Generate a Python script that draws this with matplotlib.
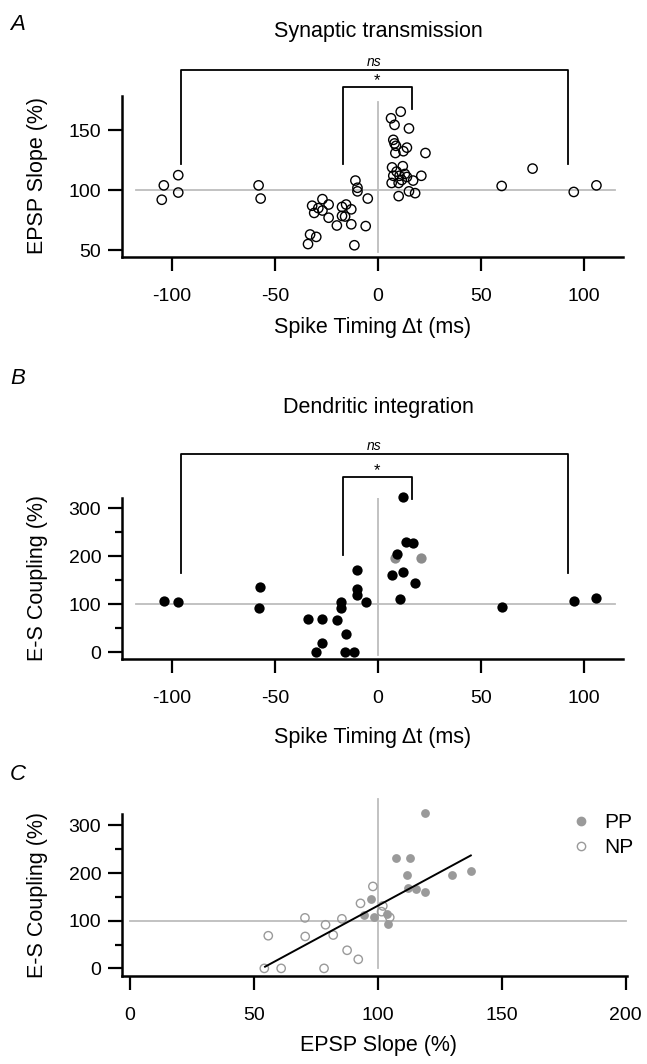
import matplotlib
matplotlib.use("Agg")
from matplotlib import pyplot as plt
from matplotlib.lines import Line2D
from matplotlib.ticker import MultipleLocator

plt.rcParams['font.family'] = ['Liberation Sans', 'DejaVu Sans']
plt.rcParams['axes.unicode_minus'] = False

# Panel A: synaptic transmission (spike timing ms, EPSP slope %)
a_dt = [-104, -97, -105, -97, -58, -57, 60, 75, 95, 106,
        -11, -10, -10, -5, -27, -32, -24, -29, -31, -27, -17.5, -15.5, -13, -24,
        -17.5, -16, -20, -13, -6, -33, -30, -34, -11.5,
        11, 6.3, 8, 15, 7.4, 8, 8.7, 14, 12.3, 8.4, 23, 6.8, 12, 9, 7.4, 10.4,
        13, 21, 14, 11.5, 17, 6.6, 10, 10, 15, 18]
a_slope = [104, 112.5, 92, 98, 104, 93, 103.5, 118, 98.5, 104,
           108, 102, 99, 93, 92.5, 87, 88, 85, 81, 83, 86, 88, 84, 77,
           78.5, 78, 70.5, 71.5, 70, 63, 61, 55, 54,
           165.5, 160, 154.5, 151.5, 142, 139, 137, 135.5, 132.5, 131, 131, 119, 120, 115.5, 112, 112,
           113.5, 112, 111, 108.5, 108, 106, 106, 95, 99, 97.5]

# Panel B: dendritic integration (spike timing ms, E-S coupling %)
b_dt = [-104, -97, -57.5, -58, -34, -27, -20, -27, -30, -18, -18, -15.5, -16, -11.5,
        -10, -10, -10, -6, 7, 12, 10.5, 18, 60, 95, 106, 12, 13.5, 17, 9]
b_es = [107.5, 105.5, 137, 93, 69, 70, 67, 19, 0, 105, 93, 38, 0, 0,
        171, 131, 119, 105, 160, 167, 111, 145, 94, 107.5, 114, 323, 230, 228, 204]
b_dt_gray = [8.4, 21]
b_es_gray = [196, 196]

# Panel C: EPSP slope vs E-S coupling
pp_slope = [119, 107.5, 113, 111.7, 112, 115.3, 119, 130, 137.5, 97.4, 94.5, 98.5, 103.8, 104]
pp_es = [327, 231, 232, 195, 169, 167, 160, 195, 205, 145, 112, 107, 115, 93]
np_slope = [54.2, 61, 78.3, 55.8, 70.7, 70.6, 78.9, 82, 85.5, 87.6, 92.1, 93, 98, 102, 104.8, 101.5]
np_es = [0, 0, 0, 68.5, 67, 106, 91.5, 70, 104, 38, 19, 136.5, 172, 131, 107, 119]
fit_x = [54.5, 137.5]
fit_y = [3.5, 237]

W, H = 647, 1064
fig = plt.figure(figsize=(W / 100, H / 100), dpi=100)
GRAY = '#bdbdbd'


def px_axes(x0, x1, y0, y1):
    return fig.add_axes([x0 / W, 1 - y1 / H, (x1 - x0) / W, (y1 - y0) / H])


def ftext(x, y, s, **kw):
    fig.text(x / W, 1 - y / H, s, **kw)


def style(ax):
    for s in ['top', 'right']:
        ax.spines[s].set_visible(False)
    for s in ['left', 'bottom']:
        ax.spines[s].set_linewidth(1.8)
    ax.tick_params(which='major', direction='out', length=10, width=1.6, labelsize=14)
    ax.tick_params(which='minor', direction='out', length=5, width=1.6)
    ax.tick_params(axis='x', pad=12)
    ax.tick_params(axis='y', pad=5)
    ax.patch.set_alpha(0)


def bracket(ax, x0, x1, top, y_left, y_right, text, fs, style_='normal', off=2):
    ax.plot([x0, x0, x1, x1], [y_left, top, top, y_right], color='black', lw=1.3, clip_on=False)
    ax.text((x0 + x1) / 2, top + off, text, ha='center', va='bottom', fontsize=fs, fontstyle=style_)


# ---- A
axA = px_axes(122, 623, 96, 257)
style(axA)
axA.set_xlim(-124.3, 118.9)
axA.set_ylim(44.2, 178.6)
axA.set_xticks([-100, -50, 0, 50, 100])
axA.set_yticks([50, 100, 150])
axA.plot([-117.5, 115], [100, 100], color=GRAY, lw=1.3, zorder=1)
axA.plot([0, 0], [48, 174], color=GRAY, lw=1.3, zorder=1)
axA.scatter(a_dt, a_slope, s=45, facecolors='none', edgecolors='black', linewidths=1.0, zorder=3, clip_on=False)
bracket(axA, -95.8, 92, 200, 121.7, 121.7, 'ns', 10, 'italic', 1)
bracket(axA, -17.1, 16.3, 186.3, 121.7, 168, '*', 12, 'normal', -1.5)

# ---- B
axB = px_axes(122, 623, 497.7, 659)
style(axB)
axB.set_xlim(-124.3, 118.9)
axB.set_ylim(-14, 322)
axB.set_xticks([-100, -50, 0, 50, 100])
axB.set_yticks([0, 100, 200, 300])
axB.yaxis.set_minor_locator(MultipleLocator(50))
axB.plot([-117.5, 115], [100, 100], color=GRAY, lw=1.3, zorder=1)
axB.plot([0, 0], [-6, 321], color=GRAY, lw=1.3, zorder=1)
axB.scatter(b_dt_gray, b_es_gray, s=55, color='#8c8c8c', linewidths=0, zorder=3)
axB.scatter(b_dt, b_es, s=55, color='black', linewidths=0, zorder=4, clip_on=False)
bracket(axB, -95.8, 92, 413, 165, 165, 'ns', 10, 'italic', 3)
bracket(axB, -17.1, 16.3, 365, 203, 320, '*', 12, 'normal', -3)

# ---- C
axC = px_axes(122, 627, 814, 976)
style(axC)
axC.set_xlim(-3.2, 200.5)
axC.set_ylim(-16, 324)
axC.set_xticks([0, 50, 100, 150, 200])
axC.set_yticks([0, 100, 200, 300])
axC.yaxis.set_minor_locator(MultipleLocator(50))
axC.plot([0, 200], [100, 100], color=GRAY, lw=1.3, zorder=1, clip_on=False)
axC.plot([100, 100], [0, 355], color=GRAY, lw=1.3, zorder=1, clip_on=False)
axC.scatter(np_slope, np_es, s=36, facecolors='none', edgecolors='#9a9a9a', linewidths=1.0, zorder=3)
axC.scatter(pp_slope, pp_es, s=40, color='#9a9a9a', linewidths=0, zorder=3, clip_on=False)
axC.plot(fit_x, fit_y, color='black', lw=1.4, zorder=4)
handles = [Line2D([], [], ls='none', marker='o', ms=6, color='#9a9a9a'),
           Line2D([], [], ls='none', marker='o', ms=6, mfc='none', mec='#9a9a9a', mew=1.0)]
fig.legend(handles, ['PP', 'NP'], loc='center left', bbox_to_anchor=(552 / W, 1 - 835 / H),
           frameon=False, fontsize=15, handlelength=1.0, handletextpad=0.6, labelspacing=0.3)

# ---- text
LBL = 15.5
ftext(10, 24, 'A', fontsize=16, fontstyle='italic', ha='left', va='center')
ftext(378, 32, 'Synaptic transmission', fontsize=LBL, ha='center', va='center')
ftext(373, 327, 'Spike Timing \u0394t (ms)', fontsize=LBL, ha='center', va='center')
ftext(38, 176, 'EPSP Slope (%)', fontsize=LBL, rotation=90, ha='center', va='center')

ftext(10, 378, 'B', fontsize=16, fontstyle='italic', ha='left', va='center')
ftext(378, 407, 'Dendritic integration', fontsize=LBL, ha='center', va='center')
ftext(373, 737, 'Spike Timing \u0394t (ms)', fontsize=LBL, ha='center', va='center')
ftext(38, 578, 'E-S Coupling (%)', fontsize=LBL, rotation=90, ha='center', va='center')

ftext(10, 775, 'C', fontsize=16, fontstyle='italic', ha='left', va='center')
ftext(378, 1045, 'EPSP Slope (%)', fontsize=LBL, ha='center', va='center')
ftext(38, 895, 'E-S Coupling (%)', fontsize=LBL, rotation=90, ha='center', va='center')

fig.savefig('out.png', dpi=100)
